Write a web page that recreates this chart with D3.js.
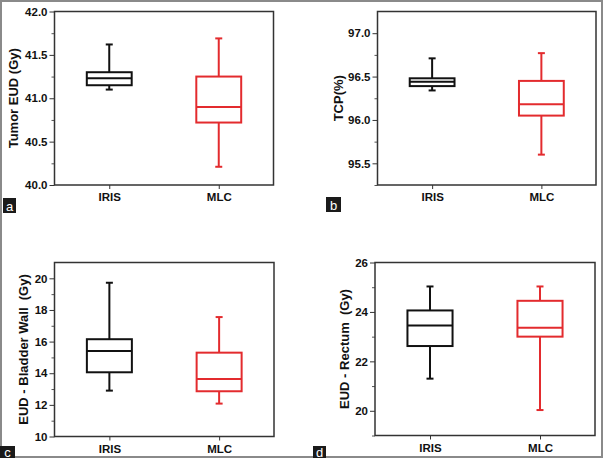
<!DOCTYPE html>
<html>
<head>
<meta charset="utf-8">
<script src="https://cdn.jsdelivr.net/npm/d3@7"></script>
<style>
  html, body { margin: 0; padding: 0; background: #fff; }
  svg text { font-family: "Liberation Sans", Arial, Helvetica, sans-serif; font-weight: bold; white-space: pre; }
</style>
</head>
<body>
<svg id="chart" width="605" height="460"></svg>
<script>
// ---- data ----
const categories = ["IRIS", "MLC"];
// five-number summaries: [min, q1, median, q3, max]
const tumorIRIS = [41.10, 41.15, 41.23, 41.30, 41.62];
const tumorMLC  = [40.21, 40.72, 40.90, 41.25, 41.69];
const tcpIRIS   = [96.34, 96.39, 96.44, 96.48, 96.71];
const tcpMLC    = [95.60, 96.05, 96.18, 96.45, 96.77];
const bladderIRIS = [12.90, 14.06, 15.41, 16.15, 19.72];
const bladderMLC  = [12.08, 12.86, 13.64, 15.30, 17.55];
const rectumIRIS  = [21.30, 22.62, 23.45, 24.06, 25.03];
const rectumMLC   = [20.03, 23.00, 23.36, 24.45, 25.03];

const tumorTicks   = [40.0, 40.5, 41.0, 41.5, 42.0];
const tcpTicks     = [95.5, 96.0, 96.5, 97.0];
const bladderTicks = [10, 12, 14, 16, 18, 20];
const rectumTicks  = [20, 22, 24, 26];

const tumorMinor   = [40.25, 40.75, 41.25, 41.75];
const tcpMinor     = [95.25, 95.75, 96.25, 96.75];
const bladderMinor = [11, 13, 15, 17, 19];
const rectumMinor  = [19, 21, 23, 25];

const panelLetters = ["a", "b", "c", "d"];
const titles = ["Tumor EUD (Gy)", "TCP(%)", "EUD - Bladder Wall  (Gy)", "EUD - Rectum  (Gy)"];

const colors = ["#111111", "#e32b2e"];

const panels = [
  { title: titles[0], letter: panelLetters[0], domain: [40, 42], ticks: tumorTicks, minor: tumorMinor, fmt: d3.format(".1f"),
    series: [tumorIRIS, tumorMLC], box: { l: 54.5, t: 11.5, r: 273.5, b: 185 }, titleX: 13, lab: { x: 3, y: 198, w: 13, h: 15 } },
  { title: titles[1], letter: panelLetters[1], domain: [95.25, 97.25], ticks: tcpTicks, minor: tcpMinor, fmt: d3.format(".1f"),
    series: [tcpIRIS, tcpMLC], box: { l: 377.5, t: 11.5, r: 596, b: 185 }, titleX: 338, lab: { x: 326, y: 197, w: 15, h: 15 } },
  { title: titles[2], letter: panelLetters[2], domain: [10, 21], ticks: bladderTicks, minor: bladderMinor, fmt: d3.format("d"),
    series: [bladderIRIS, bladderMLC], box: { l: 54.5, t: 262.5, r: 274, b: 436.5 }, titleX: 23, lab: { x: 0, y: 446, w: 15, h: 12 } },
  { title: titles[3], letter: panelLetters[3], domain: [19, 26], ticks: rectumTicks, minor: rectumMinor, fmt: d3.format("d"),
    series: [rectumIRIS, rectumMLC], box: { l: 375, t: 262.5, r: 595, b: 435.5 }, titleX: 344, lab: { x: 313, y: 446, w: 13, h: 12 } }
];

const svg = d3.select("#chart");

// outer border
svg.append("rect").attr("x", 1).attr("y", 1).attr("width", 601).attr("height", 456)
  .attr("fill", "none").attr("stroke", "#8a8a8a").attr("stroke-width", 2);

panels.forEach(p => {
  const g = svg.append("g");
  const y = d3.scaleLinear().domain(p.domain).range([p.box.b, p.box.t]);
  const x = d3.scalePoint().domain(categories).range([p.box.l, p.box.r]).padding(0.5);
  const bw = (p.box.r - p.box.l) * 0.205;
  const capW = 7;

  // y axis (major)
  const yAxis = d3.axisLeft(y).tickValues(p.ticks).tickFormat(p.fmt).tickSize(5).tickPadding(2);
  const ya = g.append("g").attr("transform", `translate(${p.box.l},0)`).call(yAxis);
  ya.select(".domain").remove();
  ya.selectAll("line").attr("stroke", "#333").attr("stroke-width", 1);
  ya.selectAll("text").attr("font-size", "11.5px").attr("fill", "#111")
    .style("font-family", '"Liberation Sans", Arial, sans-serif').style("font-weight", "bold");

  // minor ticks
  const ym = d3.axisLeft(y).tickValues(p.minor).tickFormat("").tickSize(3);
  const yma = g.append("g").attr("transform", `translate(${p.box.l},0)`).call(ym);
  yma.select(".domain").remove();
  yma.selectAll("line").attr("stroke", "#555").attr("stroke-width", 1);

  // x axis
  const xAxis = d3.axisBottom(x).tickSize(4).tickPadding(4);
  const xa = g.append("g").attr("transform", `translate(0,${p.box.b})`).call(xAxis);
  xa.select(".domain").remove();
  xa.selectAll("line").attr("stroke", "#333").attr("stroke-width", 1);
  xa.selectAll("text").attr("font-size", "11.5px").attr("fill", "#111")
    .style("font-family", '"Liberation Sans", Arial, sans-serif').style("font-weight", "bold");

  // frame
  g.append("rect").attr("x", p.box.l).attr("y", p.box.t)
    .attr("width", p.box.r - p.box.l).attr("height", p.box.b - p.box.t)
    .attr("fill", "none").attr("stroke", "#333").attr("stroke-width", 1.5);

  // boxes
  p.series.forEach((s, i) => {
    const cx = x(categories[i]);
    const c = colors[i];
    const bg = g.append("g").attr("stroke", c).attr("stroke-width", 2).attr("fill", "none");
    // whiskers
    bg.append("line").attr("x1", cx).attr("x2", cx).attr("y1", y(s[4])).attr("y2", y(s[3]));
    bg.append("line").attr("x1", cx).attr("x2", cx).attr("y1", y(s[1])).attr("y2", y(s[0]));
    bg.append("line").attr("x1", cx - capW / 2).attr("x2", cx + capW / 2).attr("y1", y(s[4])).attr("y2", y(s[4]));
    bg.append("line").attr("x1", cx - capW / 2).attr("x2", cx + capW / 2).attr("y1", y(s[0])).attr("y2", y(s[0]));
    // box
    bg.append("rect").attr("x", cx - bw / 2).attr("y", y(s[3]))
      .attr("width", bw).attr("height", y(s[1]) - y(s[3])).attr("fill", "#fff");
    // median
    bg.append("line").attr("x1", cx - bw / 2).attr("x2", cx + bw / 2).attr("y1", y(s[2])).attr("y2", y(s[2]));
  });

  // y title
  const cy = (p.box.t + p.box.b) / 2;
  g.append("text").attr("transform", `translate(${p.titleX},${cy}) rotate(-90)`)
    .attr("text-anchor", "middle").attr("dominant-baseline", "central")
    .attr("font-size", "13px").attr("fill", "#111").text(p.title);

  // panel letter
  g.append("rect").attr("x", p.lab.x).attr("y", p.lab.y).attr("width", p.lab.w).attr("height", p.lab.h).attr("fill", "#1a1a1a");
  g.append("text").attr("x", p.lab.x + p.lab.w / 2).attr("y", p.lab.y + p.lab.h / 2 + 0.5)
    .attr("text-anchor", "middle").attr("dominant-baseline", "central")
    .attr("font-size", "13px").style("font-weight", "normal").attr("fill", "#fff").text(p.letter);
});
</script>
</body>
</html>
